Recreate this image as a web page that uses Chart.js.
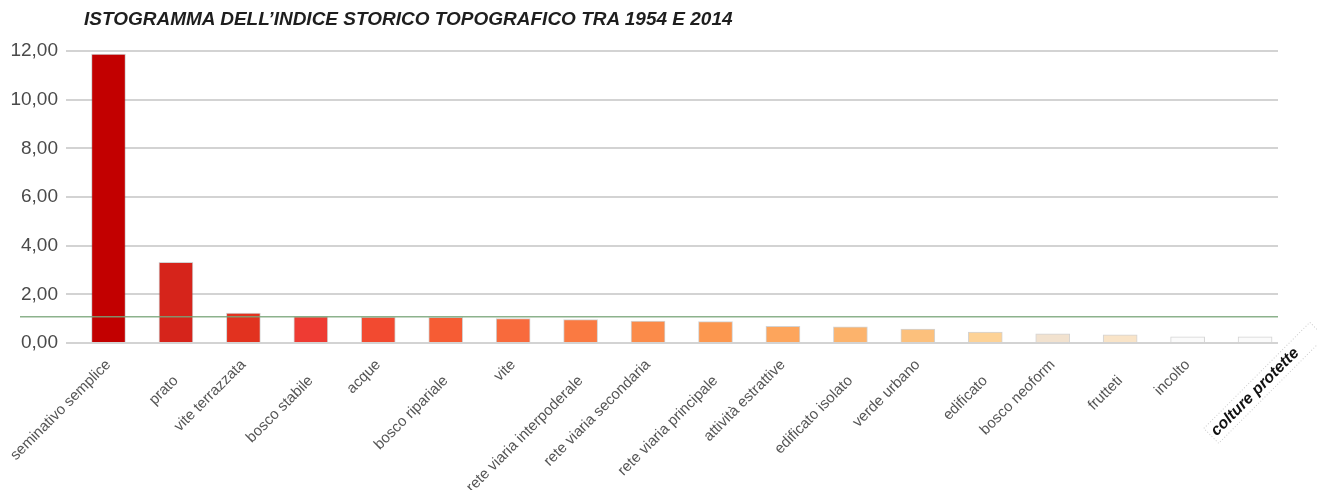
<!DOCTYPE html>
<html>
<head>
<meta charset="utf-8">
<script src="https://cdn.jsdelivr.net/npm/chart.js@4/dist/chart.umd.min.js"></script>
<style>
  body { margin: 0; background: #fff; }
  #wrap { position: relative; width: 1317px; height: 490px; }
  #title {
    position: absolute; left: 84px; top: 9px;
    font: italic bold 19px/19px "Liberation Sans", Arial, sans-serif;
    color: #1e1e1e; white-space: nowrap;
  }
</style>
</head>
<body>
<div id="wrap">
  <div id="title">ISTOGRAMMA DELL’INDICE STORICO TOPOGRAFICO TRA 1954 E 2014</div>
  <canvas id="chart" width="1317" height="490"></canvas>
</div>
<script>
// categorie (uso del suolo)
const categories = [
    'seminativo semplice', 'prato', 'vite terrazzata', 'bosco stabile', 'acque',
    'bosco ripariale', 'vite', 'rete viaria interpoderale', 'rete viaria secondaria',
    'rete viaria principale', 'attività estrattive', 'edificato isolato', 'verde urbano',
    'edificato', 'bosco neoform', 'frutteti', 'incolto', 'colture protette'
];

// indice storico topografico 1954-2014
const indexValues = [
    11.87, 3.32, 1.23, 1.09, 1.07, 1.06, 1.00, 0.96, 0.90,
    0.88, 0.68, 0.66, 0.57, 0.45, 0.38, 0.34, 0.25, 0.25
];

const barColors = [
    '#c20000', '#d6241b', '#e2321f', '#ee3b33', '#f24a30', '#f65c34',
    '#f86a3c', '#fa7a42', '#fb8b4a', '#fc974f', '#fda55c', '#fcb36c',
    '#fcc07c', '#fdd296', '#f2e2cf', '#f9e4c8', '#fbfbfb', '#fbfbfb'
];

const yTicks = [0, 2, 4, 6, 8, 10, 12];
const referenceValue = 1.08;

const labelFont = { family: '"Liberation Sans", Arial, sans-serif', size: 15 };
const fmt = v => v.toFixed(2).replace('.', ',');

// reference line + highlighted last label
const extrasPlugin = {
    id: 'extras',
    afterLayout(chart) {
        // let the staggered label rows overflow their boxes (labels are clipped to the box)
        chart.scales.x.bottom = chart.height;
        chart.scales.x2.bottom = chart.height;
    },
    afterDatasetsDraw(chart) {
        const { ctx, scales: { y }, chartArea } = chart;
        const yRef = y.getPixelForValue(referenceValue);
        ctx.save();
        ctx.strokeStyle = 'rgba(120, 165, 120, 0.85)';
        ctx.lineWidth = 1.5;
        ctx.beginPath();
        ctx.moveTo(20, yRef);
        ctx.lineTo(chartArea.right, yRef);
        ctx.stroke();
        ctx.restore();
    },
    afterDraw(chart) {
        const { ctx, scales: { x }, chartArea } = chart;
        const i = categories.length - 1;
        ctx.save();
        ctx.translate(x.getPixelForValue(i), chartArea.bottom + 49);
        ctx.rotate(-Math.PI / 4);
        ctx.setLineDash([1, 2]);
        ctx.strokeStyle = '#cdcdcd';
        ctx.lineWidth = 1;
        ctx.strokeRect(-62, -10.5, 150, 21);
        ctx.setLineDash([]);
        ctx.fillStyle = '#111';
        ctx.font = 'italic bold 16px "Liberation Sans", Arial, sans-serif';
        ctx.textAlign = 'center';
        ctx.textBaseline = 'middle';
        ctx.fillText(categories[i], 0, 0);
        ctx.restore();
    }
};

// two staggered rows of x labels (row 0 next to the axis)
const xAxis = (row, height) => ({
    type: 'linear',
    position: 'bottom',
    weight: row,
    min: -0.63,
    max: 17.34,
    bounds: 'data',
    offset: false,
    grid: { display: false, drawTicks: false },
    border: { display: false },
    afterBuildTicks: s => { s.ticks = categories.map((_, i) => ({ value: i })); },
    afterFit: s => { s.height = height; s.paddingLeft = 0; s.paddingRight = 0; },
    ticks: {
        autoSkip: false,
        minRotation: 45,
        maxRotation: 45,
        padding: 13,
        font: labelFont,
        color: '#555',
        callback: v => (v % 2 === row && v < categories.length - 1) ? categories[v] : ''
    }
});

new Chart(document.getElementById('chart'), {
    type: 'bar',
    data: {
        datasets: [{
            data: indexValues.map((v, i) => ({ x: i, y: v })),
            backgroundColor: barColors,
            borderColor: 'rgba(110, 110, 110, 0.3)',
            borderWidth: 1,
            barThickness: 34,
            xAxisID: 'x',
            yAxisID: 'y'
        }]
    },
    options: {
        responsive: false,
        animation: false,
        layout: { padding: { top: 51, right: 39, bottom: 0, left: 0 } },
        plugins: {
            legend: { display: false },
            tooltip: { enabled: false }
        },
        scales: {
            x: xAxis(0, 16),
            x2: xAxis(1, 131),
            y: {
                min: 0,
                max: 12,
                afterBuildTicks: s => { s.ticks = yTicks.map(v => ({ value: v })); },
                afterFit: s => { s.width = 66; s.paddingTop = 0; s.paddingBottom = 0; },
                grid: { color: '#d3d3d3', lineWidth: 2, drawTicks: false },
                border: { display: false },
                ticks: {
                    padding: 8,
                    font: { family: '"Liberation Sans", Arial, sans-serif', size: 19 },
                    color: '#4a4a4a',
                    callback: v => fmt(v)
                }
            }
        }
    },
    plugins: [extrasPlugin]
});
</script>
</body>
</html>
